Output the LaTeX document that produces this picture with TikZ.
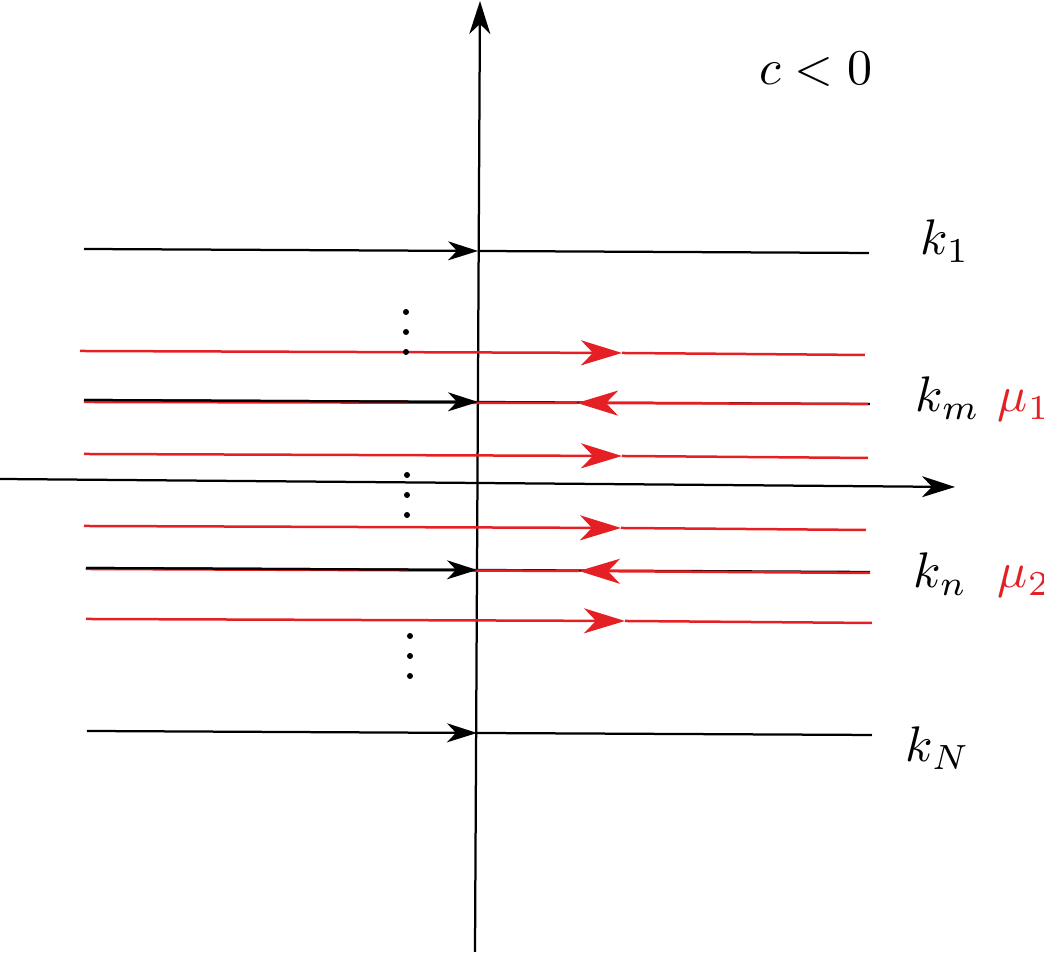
\documentclass[tikz,border=0pt]{standalone}
\usetikzlibrary{arrows.meta}
\definecolor{myred}{RGB}{228,32,36}
\begin{document}
\begin{tikzpicture}[x=0.2pt,y=-0.2pt,
  blk/.style={draw=black,line width=0.45pt},
  rd/.style={draw=myred,line width=0.5pt},
  blkarr/.style={blk,-{Stealth[length=6pt,width=3.8pt,inset=1.8pt]}},
  rdarr/.style={rd,-{Stealth[length=8.2pt,width=5pt,inset=2.4pt]}},
  axarr/.style={blk,-{Stealth[length=6.6pt,width=4.2pt,inset=2pt]}},
  lbl/.style={inner sep=0pt,anchor=base west,font=\fontsize{10}{12}\selectfont},
  dotnode/.style={circle,fill=black,inner sep=0pt,minimum size=1.2pt}]
\useasboundingbox (0,0) rectangle (1044,955);
% axes
\coordinate (vb) at (475,952);
\coordinate (vt) at (480,1);
\coordinate (hl) at (0,479);
\coordinate (hr) at (955,487);
\draw[axarr] (vb) -- (vt);
\draw[axarr] (hl) -- (hr);
% black lines
\foreach \n/\xa/\ya/\xm/\ym/\xb/\yb in {1/84/249/478/251/869/253, m/84/400/478/402/870/404, n/86/568/477/570/870/572, N/87/731/477/733/872/735}{
  \coordinate (bl\n) at (\xa,\ya);
  \coordinate (bm\n) at (\xm,\ym);
  \coordinate (br\n) at (\xb,\yb);
}
% red lines
\foreach \n/\xa/\ya/\xm/\ym/\xb/\yb in {1/80/351/622/353/865/355, 3/84/454/622/456/868/458, 4/84/526/621/528/866/530, 6/86/619/625/621/872/623}{
  \coordinate (rl\n) at (\xa,\ya);
  \coordinate (rm\n) at (\xm,\ym);
  \coordinate (rr\n) at (\xb,\yb);
  \draw[rdarr] (rl\n) -- (rm\n);
  \draw[rd] (rm\n) -- (rr\n);
}
\foreach \n/\xa/\ya/\xm/\ym/\xb/\yb in {2/84/402/577/403/868/404, 5/86/569/579/571/870/573}{
  \coordinate (rl\n) at (\xa,\ya);
  \coordinate (rm\n) at (\xm,\ym);
  \coordinate (rr\n) at (\xb,\yb);
}
% km and kn: black under red
\draw[blk] (blm) -- (brm);
\draw[blk] (bln) -- (brn);
\draw[rd] (rl2) -- (rm2);
\draw[rdarr] (rr2) -- (rm2);
\draw[rd] (rl5) -- (rm5);
\draw[rdarr] (rr5) -- (rm5);
\draw[blkarr] (blm) -- (bmm);
\draw[blkarr] (bln) -- (bmn);
% k1 and kN
\draw[blkarr] (bl1) -- (bm1);
\draw[blk] (bm1) -- (br1);
\draw[blkarr] (blN) -- (bmN);
\draw[blk] (bmN) -- (brN);
% dots
\foreach \i/\x/\y in {a/406/312,b/406/332,c/406/352,d/407/475,e/407/495,f/407/515,g/410/636,h/410/656,i/410/676}{
  \node[dotnode] (d\i) at (\x,\y) {};
}
% labels
\node[lbl] (c0) at (758,85) {$c<0$};
\node[lbl] (k1) at (920,255) {$k_1$};
\node[lbl] (km) at (915,412) {$k_m$};
\node[lbl,text=myred] (mu1) at (997,412) {$\mu_1$};
\node[lbl] (kn) at (913,588) {$k_n$};
\node[lbl,text=myred] (mu2) at (997,588) {$\mu_2$};
\node[lbl] (kN) at (905,762) {$k_N$};
\end{tikzpicture}
\end{document}
